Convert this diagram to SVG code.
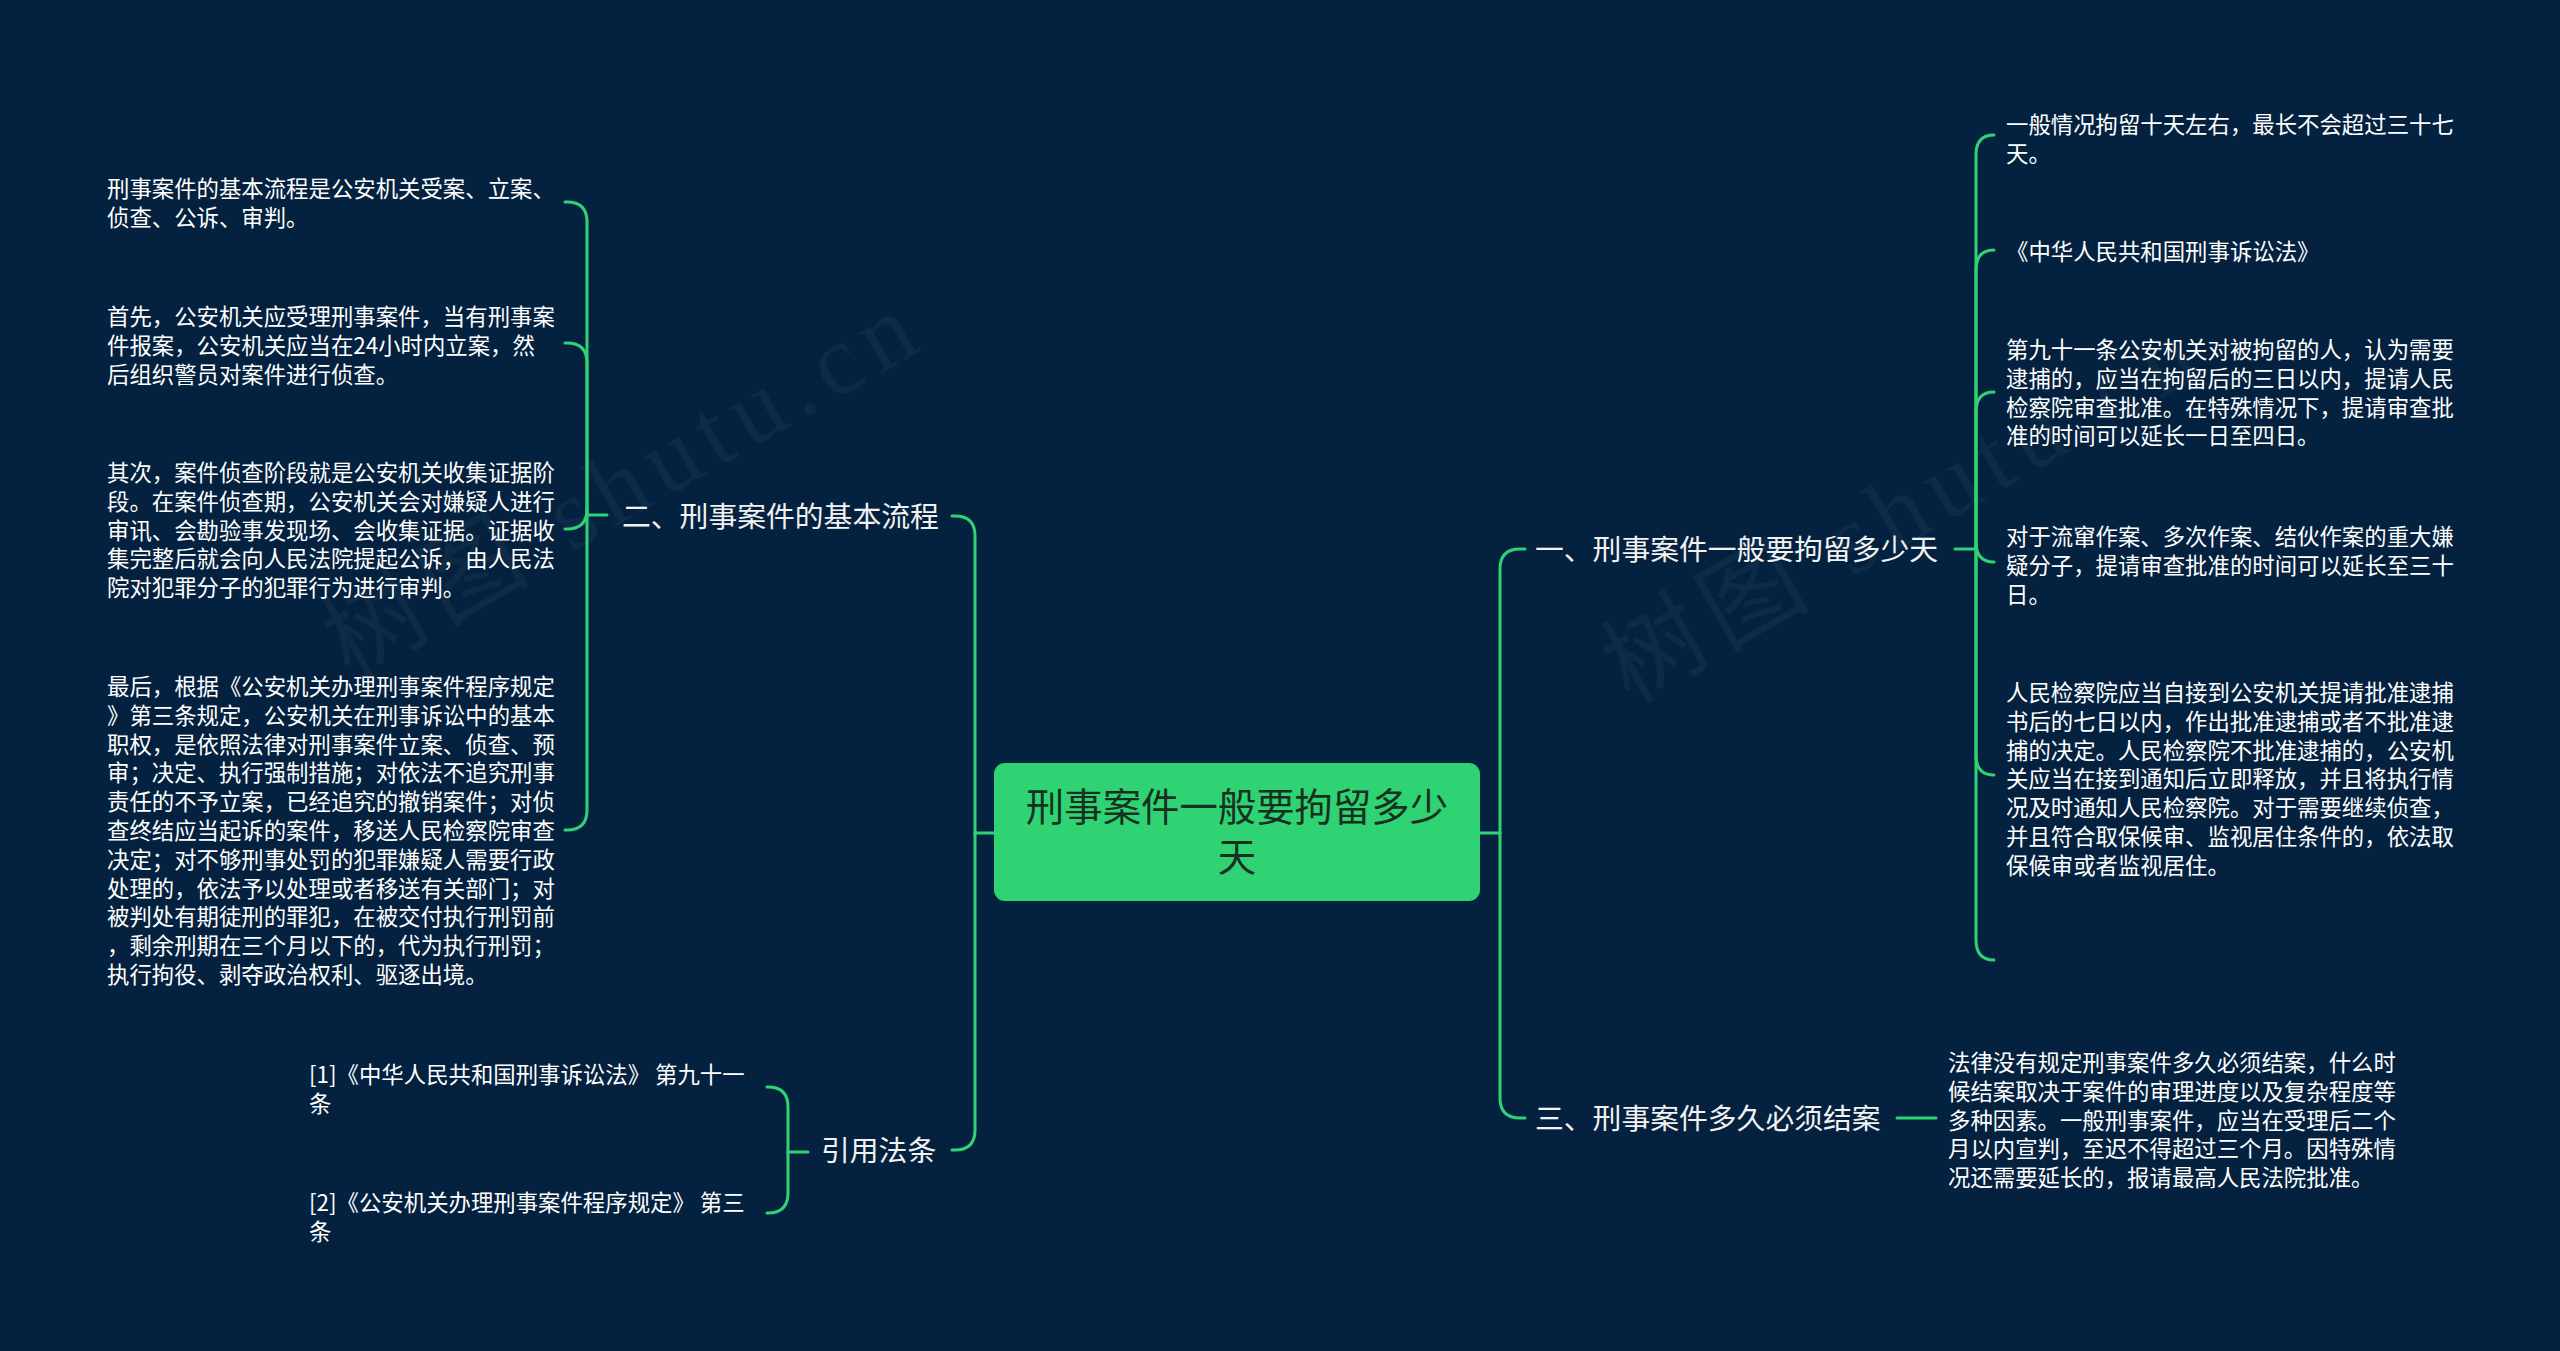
<svg xmlns="http://www.w3.org/2000/svg" width="2560" height="1351" viewBox="0 0 2560 1351">
<style>
.bg{fill:#04223f}
.ln{fill:none;stroke:#2fd374;stroke-width:3;stroke-linecap:round}
.t{font-family:"Noto Sans CJK SC","Liberation Sans",sans-serif;font-size:22.4px;fill:#ffffff}
.h{font-family:"Noto Sans CJK SC","Liberation Sans",sans-serif;font-size:28.8px;fill:#f2f2f2}
.c{font-family:"Noto Sans CJK SC","Liberation Sans",sans-serif;font-size:38.4px;fill:#17301f;text-anchor:middle}
.wm{font-family:"Liberation Serif","Noto Sans CJK SC",serif;font-size:100px;letter-spacing:10px;fill:#ffffff;fill-opacity:0.04}
</style>
<rect class="bg" x="0" y="0" width="2560" height="1351"/>
<g id="watermarks">
<text class="wm" transform="translate(350,680) rotate(-30)">树图 shutu.cn</text>
<text class="wm" transform="translate(1630,705) rotate(-30)">树图 shutu.cn</text>
</g>
<g id="connectors">
<path class="ln" d="M994 833 L975 833"/>
<path class="ln" d="M975 833 L975 536 Q975 516 955 516 L952 516"/>
<path class="ln" d="M975 833 L975 1130 Q975 1150 955 1150 L952 1150"/>
<path class="ln" d="M1480 833 L1500 833"/>
<path class="ln" d="M1500 833 L1500 569 Q1500 549 1520 549 L1525 549"/>
<path class="ln" d="M1500 833 L1500 1098 Q1500 1118 1520 1118 L1525 1118"/>
<path class="ln" d="M607 515 L587 515"/>
<path class="ln" d="M587 515 L587 222 Q587 202 567 202 L565 202"/>
<path class="ln" d="M587 515 L587 363 Q587 343 567 343 L565 343"/>
<path class="ln" d="M587 515 L587 509 Q587 529 567 529 L565 529"/>
<path class="ln" d="M587 515 L587 810 Q587 830 567 830 L565 830"/>
<path class="ln" d="M808 1152 L788 1152"/>
<path class="ln" d="M788 1152 L788 1107 Q788 1087 768 1087 L767 1087"/>
<path class="ln" d="M788 1152 L788 1193 Q788 1213 768 1213 L767 1213"/>
<path class="ln" d="M1955 549 L1976 549"/>
<path class="ln" d="M1976 549 L1976 155 Q1976 135 1994 135"/>
<path class="ln" d="M1976 549 L1976 270 Q1976 250 1994 250"/>
<path class="ln" d="M1976 549 L1976 412 Q1976 392 1994 392"/>
<path class="ln" d="M1976 549 L1976 542 Q1976 562 1994 562"/>
<path class="ln" d="M1976 549 L1976 755 Q1976 775 1994 775"/>
<path class="ln" d="M1976 549 L1976 940 Q1976 960 1994 960"/>
<path class="ln" d="M1897 1118 L1936 1118"/>
</g>
<g id="center">
<rect x="994" y="763" width="486" height="138" rx="11" fill="#2fd374"/>
<text class="c" x="1237" y="821">刑事案件一般要拘留多少</text>
<text class="c" x="1237" y="871">天</text>
</g>
<g id="h2">
<text class="h" x="622" y="527">二、刑事案件的基本流程</text>
</g>
<g id="h2c1">
<text class="t" x="107" y="197"><tspan x="107">刑事案件的基本流程是公安机关受案、立案、</tspan><tspan x="107" dy="28.8">侦查、公诉、审判。</tspan></text>
</g>
<g id="h2c2">
<text class="t" x="107" y="325"><tspan x="107">首先，公安机关应受理刑事案件，当有刑事案</tspan><tspan x="107" dy="28.8">件报案，公安机关应当在24小时内立案，然</tspan><tspan x="107" dy="28.8">后组织警员对案件进行侦查。</tspan></text>
</g>
<g id="h2c3">
<text class="t" x="107" y="481"><tspan x="107">其次，案件侦查阶段就是公安机关收集证据阶</tspan><tspan x="107" dy="28.8">段。在案件侦查期，公安机关会对嫌疑人进行</tspan><tspan x="107" dy="28.8">审讯、会勘验事发现场、会收集证据。证据收</tspan><tspan x="107" dy="28.8">集完整后就会向人民法院提起公诉，由人民法</tspan><tspan x="107" dy="28.8">院对犯罪分子的犯罪行为进行审判。</tspan></text>
</g>
<g id="h2c4">
<text class="t" x="107" y="695"><tspan x="107">最后，根据《公安机关办理刑事案件程序规定</tspan><tspan x="107" dy="28.8">》第三条规定，公安机关在刑事诉讼中的基本</tspan><tspan x="107" dy="28.8">职权，是依照法律对刑事案件立案、侦查、预</tspan><tspan x="107" dy="28.8">审；决定、执行强制措施；对依法不追究刑事</tspan><tspan x="107" dy="28.8">责任的不予立案，已经追究的撤销案件；对侦</tspan><tspan x="107" dy="28.8">查终结应当起诉的案件，移送人民检察院审查</tspan><tspan x="107" dy="28.8">决定；对不够刑事处罚的犯罪嫌疑人需要行政</tspan><tspan x="107" dy="28.8">处理的，依法予以处理或者移送有关部门；对</tspan><tspan x="107" dy="28.8">被判处有期徒刑的罪犯，在被交付执行刑罚前</tspan><tspan x="107" dy="28.8">，剩余刑期在三个月以下的，代为执行刑罚；</tspan><tspan x="107" dy="28.8">执行拘役、剥夺政治权利、驱逐出境。</tspan></text>
</g>
<g id="h4">
<text class="h" x="821" y="1161">引用法条</text>
</g>
<g id="h4c1">
<text class="t" x="309" y="1083"><tspan x="309">[1]《中华人民共和国刑事诉讼法》 第九十一</tspan><tspan x="309" dy="28.8">条</tspan></text>
</g>
<g id="h4c2">
<text class="t" x="309" y="1211"><tspan x="309">[2]《公安机关办理刑事案件程序规定》 第三</tspan><tspan x="309" dy="28.8">条</tspan></text>
</g>
<g id="h1">
<text class="h" x="1535" y="560">一、刑事案件一般要拘留多少天</text>
</g>
<g id="h1c1">
<text class="t" x="2006" y="133"><tspan x="2006">一般情况拘留十天左右，最长不会超过三十七</tspan><tspan x="2006" dy="28.8">天。</tspan></text>
</g>
<g id="h1c2">
<text class="t" x="2006" y="260">《中华人民共和国刑事诉讼法》</text>
</g>
<g id="h1c3">
<text class="t" x="2006" y="358"><tspan x="2006">第九十一条公安机关对被拘留的人，认为需要</tspan><tspan x="2006" dy="28.8">逮捕的，应当在拘留后的三日以内，提请人民</tspan><tspan x="2006" dy="28.8">检察院审查批准。在特殊情况下，提请审查批</tspan><tspan x="2006" dy="28.8">准的时间可以延长一日至四日。</tspan></text>
</g>
<g id="h1c4">
<text class="t" x="2006" y="545"><tspan x="2006">对于流窜作案、多次作案、结伙作案的重大嫌</tspan><tspan x="2006" dy="28.8">疑分子，提请审查批准的时间可以延长至三十</tspan><tspan x="2006" dy="28.8">日。</tspan></text>
</g>
<g id="h1c5">
<text class="t" x="2006" y="701"><tspan x="2006">人民检察院应当自接到公安机关提请批准逮捕</tspan><tspan x="2006" dy="28.8">书后的七日以内，作出批准逮捕或者不批准逮</tspan><tspan x="2006" dy="28.8">捕的决定。人民检察院不批准逮捕的，公安机</tspan><tspan x="2006" dy="28.8">关应当在接到通知后立即释放，并且将执行情</tspan><tspan x="2006" dy="28.8">况及时通知人民检察院。对于需要继续侦查，</tspan><tspan x="2006" dy="28.8">并且符合取保候审、监视居住条件的，依法取</tspan><tspan x="2006" dy="28.8">保候审或者监视居住。</tspan></text>
</g>
<g id="h3">
<text class="h" x="1535" y="1129">三、刑事案件多久必须结案</text>
</g>
<g id="h3c1">
<text class="t" x="1948" y="1071"><tspan x="1948">法律没有规定刑事案件多久必须结案，什么时</tspan><tspan x="1948" dy="28.8">候结案取决于案件的审理进度以及复杂程度等</tspan><tspan x="1948" dy="28.8">多种因素。一般刑事案件，应当在受理后二个</tspan><tspan x="1948" dy="28.8">月以内宣判，至迟不得超过三个月。因特殊情</tspan><tspan x="1948" dy="28.8">况还需要延长的，报请最高人民法院批准。</tspan></text>
</g>
</svg>
